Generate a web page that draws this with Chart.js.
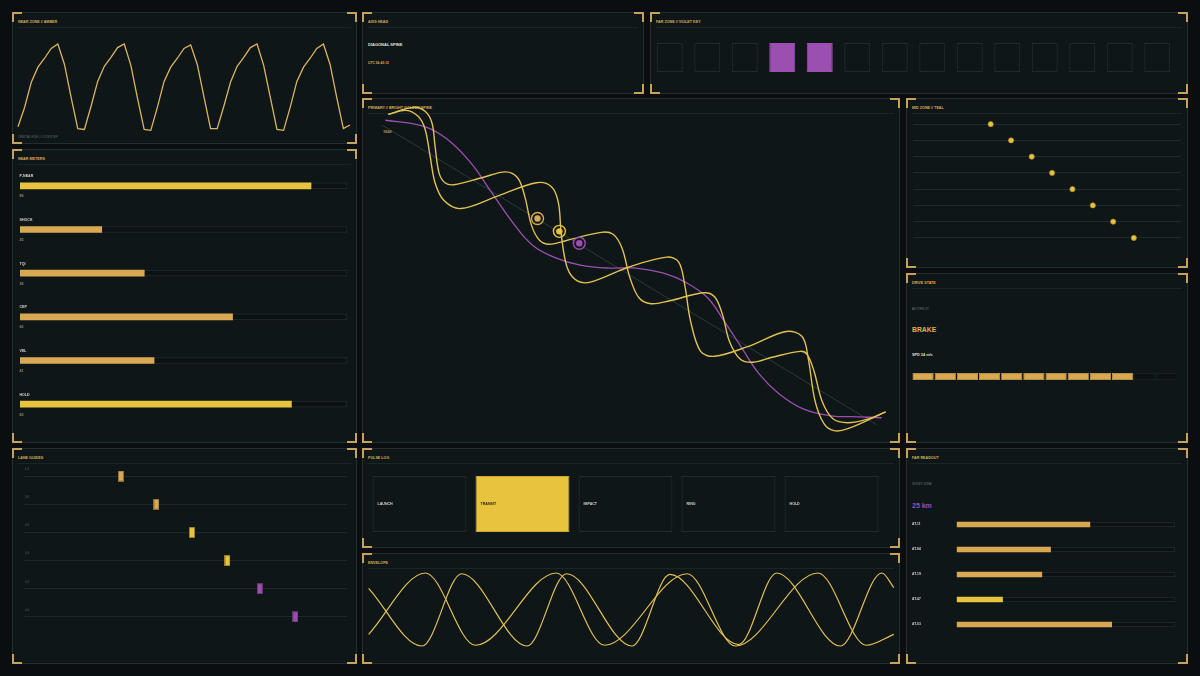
<!DOCTYPE html>
<html>
<head>
<meta charset="utf-8">
<title>Spine HUD</title>
<script src="https://cdn.jsdelivr.net/npm/chart.js@4.4.1/dist/chart.umd.min.js"></script>
<style>
    html, body { margin: 0; padding: 0; }
    body {
        width: 1200px; height: 676px; position: relative; overflow: hidden;
        background: #0a0e11;
        font-family: "Liberation Sans", Arial, sans-serif;
    }
    .panel { position: absolute; box-sizing: border-box; background: #0f1618; border: 1px solid #22302e; }
    .panel .ttl {
        position: absolute; left: 5px; top: 7.5px; line-height: 1;
        font-size: 3.7px; font-weight: bold; color: #d6ad5c; white-space: nowrap;
    }
    .panel .sep { position: absolute; left: 5px; right: 5px; top: 14px; height: 1px; background: #1a2525; }
    .cn { position: absolute; width: 8px; height: 8px; border: 0 solid #c7a25c; }
    .cn.tl { left: -1px; top: -1px; border-left-width: 2px; border-top-width: 2px; }
    .cn.tr { right: -1px; top: -1px; border-right-width: 2px; border-top-width: 2px; }
    .cn.bl { left: -1px; bottom: -1px; border-left-width: 2px; border-bottom-width: 2px; }
    .cn.br { right: -1px; bottom: -1px; border-right-width: 2px; border-bottom-width: 2px; }
    canvas { position: absolute; }
    .txt { position: absolute; white-space: nowrap; line-height: 1; transform: translateY(-50%); }
</style>
</head>
<body>
<script>
// ---- data ----
var nearWave = [
    0.07, 0.29, 0.57, 0.74, 0.84, 0.95, 1.00, 0.77, 0.40, 0.05,
    0.04, 0.30, 0.58, 0.75, 0.85, 0.96, 1.00, 0.76, 0.39, 0.04,
    0.03, 0.29, 0.58, 0.74, 0.84, 0.95, 0.99, 0.77, 0.41, 0.05,
    0.05, 0.30, 0.57, 0.75, 0.85, 0.96, 1.00, 0.76, 0.40, 0.04,
    0.03, 0.29, 0.58, 0.74, 0.84, 0.95, 1.00, 0.77, 0.40, 0.05,
    0.09
];

var meterLabels = ['P-NEAR', 'SHOCK', 'TQI', 'CEP', 'VEL', 'HOLD'];
var meterValues = [89, 25, 38, 65, 41, 83];

var laneX = [30, 41, 52, 63, 73, 84];
var laneY = [6, 5, 4, 3, 2, 1];
var laneTags = ['1.0', '0.8', '0.6', '0.4', '0.2', '0.0'];

var keyCells = ['K01', 'K02', 'K03', 'K04', 'K05', 'K06', 'K07', 'K08', 'K09', 'K10', 'K11', 'K12', 'K13', 'K14'];
var keyLit = [0, 0, 0, 1, 1, 0, 0, 0, 0, 0, 0, 0, 0, 0];

// primary panel, x/y in plot units (x 0..530, y 0..338 downward)
var spineLine = [[15, 22], [512, 324]];
var violetTrail = [
    [18, 17], [56, 23], [80, 36], [104, 60], [125, 90], [146, 120], [166, 143], [190, 156],
    [214, 163], [242, 166], [270, 166], [297, 171], [321, 181], [342, 196], [359, 220],
    [376, 246], [394, 273], [414, 293], [438, 308], [466, 315], [493, 316], [517, 317]
];
var strandA = [
    [21, 11], [46, 4], [58, 8], [65, 20], [68, 43], [72, 70], [78, 80], [87, 82],
    [115, 75], [139, 69], [151, 75], [158, 93], [165, 123], [173, 138], [183, 142], [201, 138],
    [235, 130], [247, 132], [256, 146], [264, 176], [273, 196], [285, 202], [304, 199],
    [338, 191], [349, 195], [357, 213], [364, 240], [375, 258], [388, 261], [407, 256],
    [435, 250], [442, 253], [449, 270], [457, 300], [468, 318], [483, 322], [504, 318], [521, 311]
];
var strandB = [
    [21, 11], [39, 7], [51, 13], [58, 26], [63, 53], [68, 80], [77, 98], [94, 106],
    [132, 93], [170, 80], [185, 84], [192, 100], [195, 133], [201, 166], [211, 179], [225, 180],
    [263, 165], [301, 155], [313, 160], [319, 183], [325, 220], [335, 250], [349, 255],
    [383, 245], [421, 230], [437, 235], [443, 256], [450, 300], [459, 323], [469, 330], [483, 328], [521, 311]
];
var fixes = [[171, 116], [193, 129], [213, 141]];

var midX = [29, 36.6, 44.3, 51.9, 59.5, 67.1, 74.7, 82.4];
var midY = [8, 7, 6, 5, 4, 3, 2, 1];

var driveSegments = ['S1', 'S2', 'S3', 'S4', 'S5', 'S6', 'S7', 'S8', 'S9', 'S10', 'S11', 'S12'];
var driveLevel = 10;

var pulseStages = ['LAUNCH', 'TRANSIT', 'IMPACT', 'RING', 'HOLD'];
var pulseActive = 'TRANSIT';

// envelope, x in plot units (0..530), y 0..1
var envA = [[2.6, 0.16], [59.4, 1], [109.4, 0.01], [190.3, 1], [238.5, 0.01], [321.2, 0.99], [369.4, 0], [452, 1], [500.3, 0.01], [527.8, 0.16]];
var envB = [[2.6, 0.79], [56, 0], [95.6, 0.99], [161, 0], [200.6, 0.99], [266, 0], [304, 0.98], [372.8, 0.02], [410.7, 1], [474.4, 0], [515.8, 1], [527.8, 0.8]];

var farLabels = ['AT-11', 'AT-84', 'AT-19', 'AT-47', 'AT-03'];
var farValues = [61, 43, 39, 21, 71];

// ---- styles ----
var AMBER = '#d9a852';
var YELLOW = '#e8c33e';
var VIOLET = '#9b4fb0';
var WAVE = '#dcb45e';
var STRAND = '#e2c052';
var GRID = '#1c2a29';
var TRACK_BG = '#0c1214';
var TRACK_BORDER = '#1f2c2b';
var laneColors = [AMBER, AMBER, YELLOW, YELLOW, VIOLET, VIOLET];
var farColors = [AMBER, AMBER, AMBER, YELLOW, AMBER];

Chart.defaults.animation = false;
Chart.defaults.responsive = false;
Chart.defaults.maintainAspectRatio = false;
Chart.defaults.events = [];
Chart.defaults.plugins.legend.display = false;
Chart.defaults.plugins.tooltip.enabled = false;
Chart.defaults.font.family = '"Liberation Sans", Arial, sans-serif';

// ---- panels ----
function panel(l, t, r, b, title) {
    var p = document.createElement('div');
    p.className = 'panel';
    p.style.left = l + 'px'; p.style.top = t + 'px';
    p.style.width = (r - l) + 'px'; p.style.height = (b - t) + 'px';
    p.innerHTML = '<div class="ttl">' + title + '</div><div class="sep"></div>' +
        '<div class="cn tl"></div><div class="cn tr"></div><div class="cn bl"></div><div class="cn br"></div>';
    document.body.appendChild(p);
}

function txt(x, y, s, css) {
    var d = document.createElement('div');
    d.className = 'txt';
    d.style.left = x + 'px'; d.style.top = y + 'px';
    d.style.cssText += css;
    d.textContent = s;
    document.body.appendChild(d);
}

panel(12, 12, 357, 144, 'NEAR ZONE // AMBER');
panel(12, 149, 357, 443, 'NEAR METERS');
panel(12, 448, 357, 664, 'LANE GUIDES');
panel(362, 12, 644, 94, 'AXIS HEAD');
panel(650, 12, 1188, 94, 'FAR ZONE // VIOLET KEY');
panel(362, 98, 900, 443, 'PRIMARY // BRIGHT GOLDEN SPINE');
panel(906, 98, 1188, 268, 'MID ZONE // TEAL');
panel(906, 273, 1188, 443, 'DRIVE STATE');
panel(362, 448, 900, 548, 'PULSE LOG');
panel(362, 553, 900, 664, 'ENVELOPE');
panel(906, 448, 1188, 664, 'FAR READOUT');

txt(18, 136.7, 'ORBITAL RISE // LOCKSTEP', 'font-size:3px;color:#5f6b69;');
txt(368, 45.3, 'DIAGONAL SPINE', 'font-size:4px;font-weight:bold;color:#e2e2dc;');
txt(368, 64.3, 'UTC 06:43:12', 'font-size:3.3px;font-weight:bold;color:#d6ad5c;');
txt(383.5, 132.3, 'NEAR', 'font-size:3px;font-weight:bold;color:#b59450;');
txt(912, 309.3, 'AUTOPILOT', 'font-size:3px;color:#6f7c7a;');
txt(912, 330, 'BRAKE', 'font-size:6.8px;font-weight:bold;color:#e0b24f;');
txt(912, 356, 'SPD 34 m/s', 'font-size:3.8px;font-weight:bold;color:#e0e0da;');
txt(912, 484.3, 'VIOLET ZONE', 'font-size:3px;color:#6f7c7a;');
txt(912, 505.3, '25 km', 'font-size:7px;font-weight:bold;color:#9b4fb0;');

// ---- chart helper: chart area lands exactly on x0..x1, y0..y1 ----
function mount(x0, y0, x1, y1, cfg, axisW) {
    var pad = 6, aw = axisW || 0;
    var c = document.createElement('canvas');
    c.width = Math.round(x1 - x0) + pad * 2 + aw;
    c.height = Math.round(y1 - y0) + pad * 2;
    c.style.left = (x0 - pad - aw) + 'px';
    c.style.top = (y0 - pad) + 'px';
    document.body.appendChild(c);
    cfg.options = cfg.options || {};
    cfg.options.layout = { padding: pad };
    return new Chart(c.getContext('2d'), cfg);
}

function chip(color) {
    var c = document.createElement('canvas');
    c.width = 6; c.height = 11;
    var g = c.getContext('2d');
    g.fillStyle = color; g.fillRect(0, 0, 6, 11);
    g.strokeStyle = 'rgba(0,0,0,0.35)'; g.lineWidth = 1; g.strokeRect(0.5, 0.5, 5, 10);
    return c;
}

function laneTicks(levels) {
    return function (scale) { scale.ticks = levels.map(function (v) { return { value: v }; }); };
}

var meterText = {
    id: 'meterText',
    afterDatasetsDraw: function (chart) {
        var ctx = chart.ctx, left = chart.chartArea.left;
        ctx.save();
        ctx.textBaseline = 'middle';
        chart.getDatasetMeta(0).data.forEach(function (bar, i) {
            ctx.font = 'bold 3.6px "Liberation Sans"';
            ctx.fillStyle = '#d4d4cc';
            ctx.fillText(meterLabels[i], left - 0.5, bar.y - 9.5);
            ctx.fillStyle = '#9c8f62';
            ctx.fillText(String(meterValues[i]), left - 0.5, bar.y + 10.5);
        });
        ctx.restore();
    }
};

var pulseText = {
    id: 'pulseText',
    afterDatasetsDraw: function (chart) {
        var ctx = chart.ctx;
        ctx.save();
        ctx.textBaseline = 'middle';
        ctx.font = 'bold 3.6px "Liberation Sans"';
        chart.getDatasetMeta(0).data.forEach(function (bar, i) {
            ctx.fillStyle = pulseStages[i] === pulseActive ? '#2a2410' : '#d4d4cc';
            ctx.fillText(pulseStages[i], bar.x - bar.width / 2 + 5, (bar.y + bar.base) / 2);
        });
        ctx.restore();
    }
};

function pts(list) { return list.map(function (p) { return { x: p[0], y: p[1] }; }); }

// near zone wave
mount(18, 44, 350, 133, {
    type: 'line',
    data: {
        labels: nearWave.map(function (v, i) { return i; }),
        datasets: [{ data: nearWave, borderColor: WAVE, borderWidth: 1.3, pointRadius: 0, tension: 0, clip: 4 }]
    },
    options: { scales: { x: { display: false }, y: { display: false, min: 0, max: 1 } } }
});

// near meters
mount(20, 163.7, 347, 425.9, {
    type: 'bar',
    data: {
        labels: meterLabels,
        datasets: [
            { data: meterValues, backgroundColor: meterValues.map(function (v) { return v >= 80 ? YELLOW : AMBER; }), barThickness: 6, grouped: false },
            { data: meterLabels.map(function () { return 100; }), backgroundColor: TRACK_BG, borderColor: TRACK_BORDER, borderWidth: 1, borderSkipped: false, barThickness: 6, grouped: false }
        ]
    },
    options: { indexAxis: 'y', scales: { x: { display: false, min: 0, max: 100 }, y: { display: false } } },
    plugins: [meterText]
});

// lane guides
mount(22, 462.2, 347, 631.4, {
    type: 'scatter',
    data: {
        datasets: [{
            data: laneX.map(function (x, i) { return { x: x, y: laneY[i] }; }),
            pointStyle: laneColors.map(chip), pointRadius: 5
        }]
    },
    options: {
        scales: {
            x: { display: false, min: 0, max: 100 },
            y: {
                min: 0.5, max: 6.5, afterBuildTicks: laneTicks(laneY),
                grid: { color: GRID, drawTicks: false }, border: { display: false },
                ticks: {
                    mirror: true, padding: 1, labelOffset: -7, color: '#56625f', font: { size: 3 },
                    callback: function (v) { return laneTags[laneY.indexOf(v)]; }
                }
            }
        }
    }
});

// far zone violet key
mount(651, 43.3, 1176.3, 72, {
    type: 'bar',
    data: {
        labels: keyCells,
        datasets: [{
            data: keyCells.map(function () { return 1; }),
            backgroundColor: keyLit.map(function (k) { return k ? VIOLET : 'rgba(0,0,0,0)'; }),
            borderColor: keyLit.map(function (k) { return k ? VIOLET : TRACK_BORDER; }),
            borderWidth: 1, borderSkipped: false, barPercentage: 0.693, categoryPercentage: 1
        }]
    },
    options: { scales: { x: { display: false }, y: { display: false, min: 0, max: 1 } } }
});

// primary spine
mount(366, 102, 896, 440, {
    type: 'scatter',
    data: {
        datasets: [
            { data: pts(fixes.slice(0, 1)), pointRadius: 3.2, backgroundColor: AMBER, borderWidth: 0 },
            { data: pts(fixes.slice(0, 1)), pointRadius: 6, backgroundColor: 'rgba(0,0,0,0)', borderColor: AMBER, borderWidth: 1.4 },
            { data: pts(fixes.slice(1, 2)), pointRadius: 3.2, backgroundColor: YELLOW, borderWidth: 0 },
            { data: pts(fixes.slice(1, 2)), pointRadius: 6, backgroundColor: 'rgba(0,0,0,0)', borderColor: YELLOW, borderWidth: 1.4 },
            { data: pts(fixes.slice(2, 3)), pointRadius: 3.2, backgroundColor: VIOLET, borderWidth: 0 },
            { data: pts(fixes.slice(2, 3)), pointRadius: 6, backgroundColor: 'rgba(0,0,0,0)', borderColor: VIOLET, borderWidth: 1.4 },
            { data: pts(strandA), showLine: true, borderColor: STRAND, borderWidth: 1.4, pointRadius: 0, tension: 0.35, clip: 5 },
            { data: pts(strandB), showLine: true, borderColor: STRAND, borderWidth: 1.4, pointRadius: 0, tension: 0.35, clip: 5 },
            { data: pts(violetTrail), showLine: true, borderColor: VIOLET, borderWidth: 1.3, pointRadius: 0, tension: 0.4 },
            { data: pts(spineLine), showLine: true, borderColor: '#2c4541', borderWidth: 0.8, pointRadius: 0 }
        ]
    },
    options: {
        scales: {
            x: { display: false, min: 0, max: 530 },
            y: { display: false, min: 0, max: 338, reverse: true }
        }
    }
});

// mid zone teal
mount(912.7, 115.85, 1181, 246.15, {
    type: 'scatter',
    data: {
        datasets: [{
            data: midX.map(function (x, i) { return { x: x, y: midY[i] }; }),
            pointRadius: 2.6, backgroundColor: YELLOW, borderColor: '#a8872c', borderWidth: 0.7
        }]
    },
    options: {
        scales: {
            x: { display: false, min: 0, max: 100 },
            y: {
                min: 0.5, max: 8.5, afterBuildTicks: laneTicks(midY),
                grid: { color: '#1b2e2b', drawTicks: false }, border: { display: false }, ticks: { display: false }
            }
        }
    }
});

// drive state segments
mount(912.3, 373.3, 1178.3, 380.7, {
    type: 'bar',
    data: {
        labels: driveSegments,
        datasets: [{
            data: driveSegments.map(function () { return 1; }),
            backgroundColor: driveSegments.map(function (s, i) { return i < driveLevel ? AMBER : TRACK_BG; }),
            borderColor: driveSegments.map(function (s, i) { return i < driveLevel ? AMBER : TRACK_BORDER; }),
            borderWidth: 0.8, borderSkipped: false, barPercentage: 0.955, categoryPercentage: 1
        }]
    },
    options: { scales: { x: { display: false }, y: { display: false, min: 0, max: 1 } } }
});

// pulse log
mount(367.5, 476.3, 882.7, 532.7, {
    type: 'bar',
    data: {
        labels: pulseStages,
        datasets: [{
            data: pulseStages.map(function () { return 1; }),
            backgroundColor: pulseStages.map(function (s) { return s === pulseActive ? YELLOW : 'rgba(0,0,0,0)'; }),
            borderColor: pulseStages.map(function (s) { return s === pulseActive ? '#c9a532' : TRACK_BORDER; }),
            borderWidth: 1, borderSkipped: false, barPercentage: 0.912, categoryPercentage: 1
        }]
    },
    options: { scales: { x: { display: false }, y: { display: false, min: 0, max: 1 } } },
    plugins: [pulseText]
});

// envelope
mount(366, 573.3, 896, 646.7, {
    type: 'line',
    data: {
        datasets: [
            { data: pts(envA), borderColor: STRAND, borderWidth: 1.2, pointRadius: 0, cubicInterpolationMode: 'monotone', clip: 5 },
            { data: pts(envB), borderColor: STRAND, borderWidth: 1.2, pointRadius: 0, cubicInterpolationMode: 'monotone', clip: 5 }
        ]
    },
    options: { scales: { x: { type: 'linear', display: false, min: 0, max: 530 }, y: { display: false, min: 0, max: 1 } } }
});

// far readout
mount(956.7, 512.2, 1175.7, 637.2, {
    type: 'bar',
    data: {
        labels: farLabels,
        datasets: [
            { data: farValues, backgroundColor: farColors, barThickness: 5, grouped: false },
            { data: farLabels.map(function () { return 100; }), backgroundColor: TRACK_BG, borderColor: TRACK_BORDER, borderWidth: 1, borderSkipped: false, barThickness: 5, grouped: false }
        ]
    },
    options: {
        indexAxis: 'y',
        scales: {
            x: { display: false, min: 0, max: 100 },
            y: {
                afterFit: function (s) { s.width = 44.7; },
                grid: { display: false, drawTicks: false }, border: { display: false },
                ticks: { crossAlign: 'far', padding: 0, color: '#d4d4cc', font: { size: 3.3, weight: 'bold' } }
            }
        }
    }
}, 44.7);
</script>
</body>
</html>
